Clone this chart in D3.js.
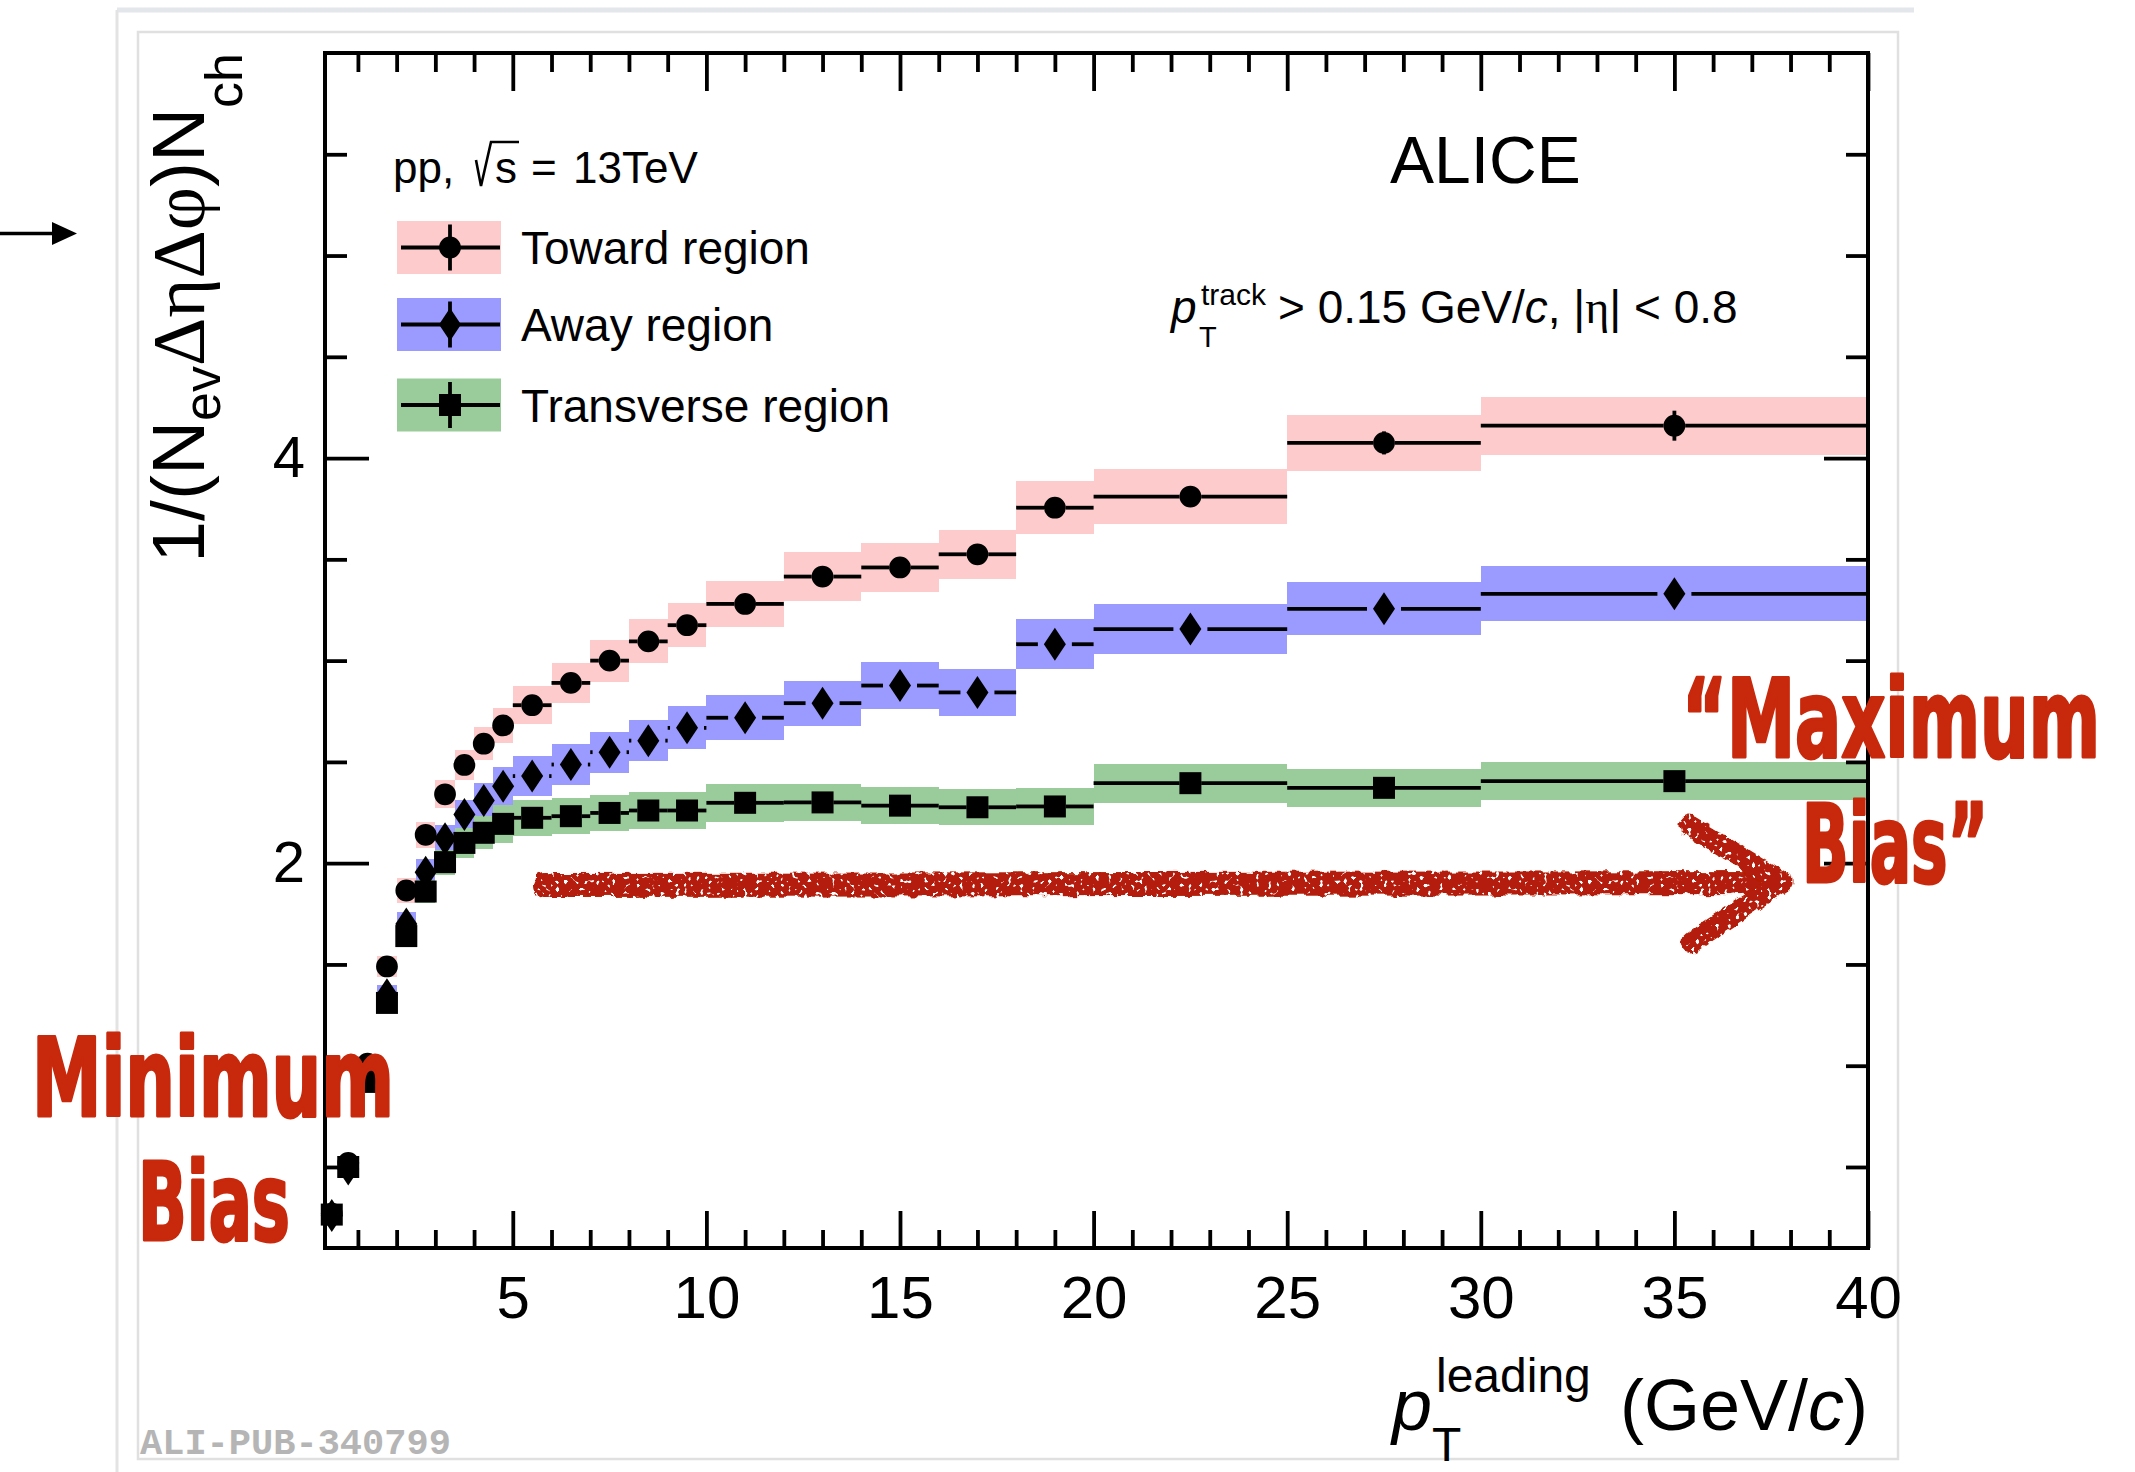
<!DOCTYPE html>
<html><head><meta charset="utf-8">
<script src="https://cdn.jsdelivr.net/npm/d3@7"></script>
<style>
html,body{margin:0;padding:0;background:#fff;}
svg{display:block;}
</style></head>
<body>
<svg id="chart" width="2135" height="1472"></svg>
<script>
// ---------------- data ----------------
const binEdges   = [0.15,0.5,1,1.5,2,2.5,3,3.5,4,4.5,5,6,7,8,9,10,12,14,16,18,20,25,30,40];
const binCenters = [0.325,0.75,1.25,1.75,2.25,2.75,3.25,3.75,4.25,4.75,5.5,6.5,7.5,8.5,9.5,11,13,15,17,19,22.5,27.5,35];

const toward     = [0.27,0.52,1.01,1.49,1.865,2.14,2.34,2.485,2.59,2.68,2.78,2.89,3.00,3.095,3.175,3.28,3.415,3.46,3.525,3.755,3.81,4.075,4.16];
const towardSys  = [0.015,0.025,0.04,0.05,0.06,0.065,0.07,0.074,0.08,0.088,0.095,0.10,0.104,0.109,0.11,0.115,0.12,0.12,0.122,0.132,0.134,0.14,0.144];
const towardStat = [0.002,0.002,0.003,0.004,0.005,0.006,0.007,0.008,0.009,0.01,0.01,0.012,0.014,0.016,0.018,0.015,0.02,0.025,0.03,0.035,0.03,0.057,0.074];

const away       = [0.26,0.49,0.96,1.35,1.70,1.955,2.12,2.24,2.31,2.38,2.43,2.487,2.548,2.605,2.668,2.718,2.79,2.877,2.843,3.081,3.156,3.256,3.33];
const awaySys    = [0.015,0.025,0.04,0.05,0.06,0.068,0.07,0.072,0.085,0.093,0.097,0.10,0.101,0.103,0.106,0.11,0.111,0.116,0.114,0.123,0.125,0.13,0.135];
const awayStat   = [0.002,0.002,0.003,0.004,0.005,0.006,0.007,0.008,0.009,0.01,0.01,0.012,0.014,0.016,0.018,0.015,0.02,0.025,0.03,0.035,0.03,0.045,0.06];

const trans      = [0.265,0.50,0.92,1.31,1.64,1.86,2.005,2.10,2.15,2.194,2.224,2.232,2.248,2.26,2.26,2.298,2.30,2.284,2.276,2.28,2.395,2.372,2.405];
const transSys   = [0.015,0.025,0.04,0.045,0.05,0.058,0.062,0.074,0.082,0.092,0.09,0.088,0.091,0.093,0.09,0.093,0.093,0.092,0.09,0.09,0.096,0.095,0.095];
const transStat  = [0.002,0.002,0.003,0.004,0.005,0.006,0.007,0.008,0.009,0.01,0.01,0.012,0.014,0.016,0.018,0.015,0.02,0.025,0.03,0.035,0.03,0.04,0.05];

const seriesNames = ["Toward region","Away region","Transverse region"];
const xMajorTicks = [5,10,15,20,25,30,35,40];
const xMinorTicks = d3.range(1,40,1).filter(v=>v%5!==0);
const yMajorTicks = [2,4];
const yMinorTicks = [0.5,1,1.5,2.5,3,3.5,4.5,5,5.5];

// ---------------- layout ----------------
const X0=325, X1=1868, Y0=1248, Y1=53;
const FONT = "'Liberation Sans', Arial, Helvetica, sans-serif";
const SERIF = "'Liberation Serif','DejaVu Serif', serif";
const LW = 3.8;
const svg = d3.select("#chart");
const x = d3.scaleLinear().domain([0.15,40]).range([X0,X1]);
const y = d3.scaleLinear().domain([0.1,6]).range([Y0,Y1]);

// screenshot frame lines
svg.append("line").attr("x1",117).attr("x2",1914).attr("y1",10).attr("y2",10).attr("stroke","#e3e6ea").attr("stroke-width",5);
svg.append("line").attr("x1",117).attr("x2",117).attr("y1",10).attr("y2",1472).attr("stroke","#e3e3e3").attr("stroke-width",3);
svg.append("rect").attr("x",138).attr("y",32).attr("width",1760).attr("height",1427)
  .attr("fill","none").attr("stroke","#e0e0e0").attr("stroke-width",2.5);

// slide arrow at top-left
svg.append("line").attr("x1",0).attr("x2",56).attr("y1",233.5).attr("y2",233.5).attr("stroke","#000").attr("stroke-width",3.5);
svg.append("path").attr("d","M52,222 L77,233.5 L52,245 Z").attr("fill","#000");

// ---------------- bands ----------------
const series = [
  {name:seriesNames[0], val:toward, sys:towardSys, stat:towardStat, fill:"#fdcbcb", marker:"circle", gap:10.8},
  {name:seriesNames[1], val:away,   sys:awaySys,   stat:awayStat,   fill:"#9a9aff", marker:"diamond", gap:17},
  {name:seriesNames[2], val:trans,  sys:transSys,  stat:transStat,  fill:"#9acb9a", marker:"square", gap:10.8}
];
const diamondType = {draw(ctx,size){const h=16.5,w=11;ctx.moveTo(0,-h);ctx.lineTo(w,0);ctx.lineTo(0,h);ctx.lineTo(-w,0);ctx.closePath();}};
const squareType  = {draw(ctx,size){const s=11;ctx.rect(-s,-s,2*s,2*s);}};
const circleType  = {draw(ctx,size){const r=10.9;ctx.moveTo(r,0);ctx.arc(0,0,r,0,2*Math.PI);}};
const symFor = m => d3.symbol().type(m==="circle"?circleType:(m==="diamond"?diamondType:squareType))();

const plot = svg.append("g");
series.forEach(s=>{
  plot.append("g").selectAll("rect").data(binCenters).join("rect")
    .attr("x",(d,i)=>x(binEdges[i]))
    .attr("width",(d,i)=>x(binEdges[i+1])-x(binEdges[i]))
    .attr("y",(d,i)=>y(s.val[i]+s.sys[i]))
    .attr("height",(d,i)=>y(s.val[i]-s.sys[i])-y(s.val[i]+s.sys[i]))
    .attr("fill",s.fill).attr("shape-rendering","crispEdges");
});
series.forEach(s=>{
  const g = plot.append("g");
  binCenters.forEach((c,i)=>{
    const cx=x(c), cy=y(s.val[i]), lx=x(binEdges[i]), rx=x(binEdges[i+1]);
    if (cx-s.gap>lx) g.append("line").attr("x1",lx).attr("x2",cx-s.gap).attr("y1",cy).attr("y2",cy).attr("stroke","#000").attr("stroke-width",LW);
    if (rx>cx+s.gap) g.append("line").attr("x1",cx+s.gap).attr("x2",rx).attr("y1",cy).attr("y2",cy).attr("stroke","#000").attr("stroke-width",LW);
    g.append("line").attr("x1",cx).attr("x2",cx).attr("y1",y(s.val[i]+s.stat[i])).attr("y2",y(s.val[i]-s.stat[i])).attr("stroke","#000").attr("stroke-width",LW);
    g.append("path").attr("d",symFor(s.marker)).attr("transform",`translate(${cx},${cy})`).attr("fill","#000");
  });
});

// ---------------- axes ----------------
function styleAxis(g){g.select(".domain").remove();g.selectAll("line").attr("stroke","#000").attr("stroke-width",LW);}
svg.append("g").attr("transform",`translate(0,${Y0})`)
  .call(d3.axisBottom(x).tickValues(xMajorTicks).tickSize(-37).tickPadding(27).tickFormat(d3.format("d")))
  .call(styleAxis).call(g=>g.selectAll("text").attr("font-family",FONT).attr("font-size",60).attr("fill","#000"));
svg.append("g").attr("transform",`translate(0,${Y0})`)
  .call(d3.axisBottom(x).tickValues(xMinorTicks).tickSize(-18).tickFormat(""))
  .call(styleAxis);
svg.append("g").attr("transform",`translate(0,${Y1})`)
  .call(d3.axisTop(x).tickValues(xMajorTicks).tickSize(-38).tickFormat(""))
  .call(styleAxis);
svg.append("g").attr("transform",`translate(0,${Y1})`)
  .call(d3.axisTop(x).tickValues(xMinorTicks).tickSize(-19).tickFormat(""))
  .call(styleAxis);
svg.append("g").attr("transform",`translate(${X0},0)`)
  .call(d3.axisLeft(y).tickValues(yMajorTicks).tickSize(-44).tickPadding(20).tickFormat(d3.format("d")))
  .call(styleAxis).call(g=>g.selectAll("text").attr("font-family",FONT).attr("font-size",58).attr("fill","#000"));
svg.append("g").attr("transform",`translate(${X0},0)`)
  .call(d3.axisLeft(y).tickValues(yMinorTicks).tickSize(-22).tickFormat(""))
  .call(styleAxis);
svg.append("g").attr("transform",`translate(${X1},0)`)
  .call(d3.axisRight(y).tickValues(yMajorTicks).tickSize(-44).tickFormat(""))
  .call(styleAxis);
svg.append("g").attr("transform",`translate(${X1},0)`)
  .call(d3.axisRight(y).tickValues(yMinorTicks).tickSize(-22).tickFormat(""))
  .call(styleAxis);
svg.append("rect").attr("x",X0).attr("y",Y1).attr("width",X1-X0).attr("height",Y0-Y1)
  .attr("fill","none").attr("stroke","#000").attr("stroke-width",4);

// ---------------- axis titles ----------------
const yl = svg.append("text").attr("transform","translate(204,53) rotate(-90)")
  .attr("text-anchor","end").attr("font-family",FONT).attr("font-size",75).attr("fill","#000");
yl.append("tspan").text("1/(N");
yl.append("tspan").attr("font-size",52).attr("dy",16).text("ev");
yl.append("tspan").attr("dy",-16).attr("font-family",SERIF).text("\u0394\u03b7\u0394\u03c6");
yl.append("tspan").text(")N");
yl.append("tspan").attr("font-size",52).attr("dy",38).text("ch");

svg.append("text").attr("x",1392).attr("y",1430).attr("font-family",FONT).attr("font-style","italic").attr("font-size",72).text("p");
svg.append("text").attr("x",1436).attr("y",1392).attr("font-family",FONT).attr("font-size",48).text("leading");
svg.append("text").attr("x",1432).attr("y",1461).attr("font-family",FONT).attr("font-size",48).text("T");
const xl = svg.append("text").attr("x",1868).attr("y",1430).attr("text-anchor","end").attr("font-family",FONT).attr("font-size",72);
xl.append("tspan").text("(GeV/");
xl.append("tspan").attr("font-style","italic").text("c");
xl.append("tspan").text(")");

// ---------------- labels ----------------
svg.append("text").attr("x",1390).attr("y",183).attr("font-family",FONT).attr("font-size",66).text("ALICE");

svg.append("text").attr("x",393).attr("y",183).attr("font-family",FONT).attr("font-size",44).text("pp,");
svg.append("path").attr("d","M476,160 L481,186 L491,142 L519,142").attr("fill","none").attr("stroke","#000").attr("stroke-width",2.6);
svg.append("text").attr("x",495).attr("y",183).attr("font-family",FONT).attr("font-size",44).text("s");
svg.append("text").attr("x",531).attr("y",183).attr("font-family",FONT).attr("font-size",44).text("=");
svg.append("text").attr("x",573).attr("y",183).attr("font-family",FONT).attr("font-size",44).text("13TeV");

svg.append("text").attr("x",1171).attr("y",323).attr("font-family",FONT).attr("font-style","italic").attr("font-size",46).text("p");
svg.append("text").attr("x",1201).attr("y",305).attr("font-family",FONT).attr("font-size",30).text("track");
svg.append("text").attr("x",1199).attr("y",347).attr("font-family",FONT).attr("font-size",29).text("T");
const cut = svg.append("text").attr("x",1278).attr("y",323).attr("font-family",FONT).attr("font-size",46).attr("xml:space","preserve");
cut.append("tspan").text("> 0.15 GeV/");
cut.append("tspan").attr("font-style","italic").text("c");
cut.append("tspan").text(", |");
cut.append("tspan").attr("font-family",SERIF).text("\u03b7");
cut.append("tspan").text("| < 0.8");

// legend
const legY=[247.5,324.5,405];
series.forEach((s,i)=>{
  const g=svg.append("g");
  g.append("rect").attr("x",397).attr("y",legY[i]-26.5).attr("width",104).attr("height",53).attr("fill",s.fill);
  g.append("line").attr("x1",401).attr("x2",500).attr("y1",legY[i]).attr("y2",legY[i]).attr("stroke","#000").attr("stroke-width",LW);
  g.append("line").attr("x1",450).attr("x2",450).attr("y1",legY[i]-23).attr("y2",legY[i]+23).attr("stroke","#000").attr("stroke-width",LW);
  g.append("path").attr("d",symFor(s.marker)).attr("transform",`translate(450,${legY[i]})`).attr("fill","#000");
  g.append("text").attr("x",521).attr("y",legY[i]+16.5).attr("font-family",FONT).attr("font-size",46).text(s.name);
});

// publication id
svg.append("text").attr("x",140).attr("y",1454).attr("font-family","'Liberation Mono','DejaVu Sans Mono',monospace")
  .attr("font-weight","bold").attr("font-size",37).attr("fill","#b5b5b5").text("ALI-PUB-340799");

// ---------------- red annotations ----------------
const defs = svg.append("defs");
const f = defs.append("filter").attr("id","rough").attr("x","-5%").attr("y","-60%").attr("width","110%").attr("height","220%");
f.append("feTurbulence").attr("type","fractalNoise").attr("baseFrequency","0.1").attr("numOctaves",2).attr("seed",3).attr("result","noise");
f.append("feDisplacementMap").attr("in","SourceGraphic").attr("in2","noise").attr("scale",8).attr("xChannelSelector","R").attr("yChannelSelector","G").attr("result","disp");
f.append("feTurbulence").attr("type","fractalNoise").attr("baseFrequency","0.25").attr("numOctaves",1).attr("seed",9).attr("result","n2");
f.append("feColorMatrix").attr("in","n2").attr("type","matrix").attr("values","0 0 0 0 0  0 0 0 0 0  0 0 0 0 0  0 0 0 -16 11").attr("result","holes");
f.append("feComposite").attr("in","disp").attr("in2","holes").attr("operator","in");

const arrowG = svg.append("g").attr("filter","url(#rough)").attr("stroke","#b41f07").attr("fill","none").attr("stroke-linecap","round");
arrowG.append("line").attr("x1",545).attr("y1",885).attr("x2",1766).attr("y2",883).attr("stroke-width",24);
arrowG.append("path").attr("d","M1690,826 L1782,882 L1692,942").attr("stroke-width",21).attr("stroke-linejoin","round");

const RED="#c8280b";
const HAND="'DejaVu Sans Condensed','DejaVu Sans',sans-serif";
function hand(xp,yp,w,txt){
  const g = svg.append("g").attr("transform",`translate(${xp},${yp})`);
  const t = g.append("text").attr("x",0).attr("y",0).attr("font-family",HAND).attr("font-weight","bold")
   .attr("font-stretch","condensed").attr("font-size",108).attr("fill",RED).attr("stroke",RED).attr("stroke-width",3)
   .attr("stroke-linejoin","round").text(txt);
  const nat = t.node().getComputedTextLength() || w;
  t.attr("transform",`scale(${w/nat},1)`);
}
hand(32,1116,362,"Minimum");
hand(138,1240,152,"Bias");
hand(1682,757,418,"\u201cMaximum");
hand(1802,882,186,"Bias\u201d");
</script>
</body></html>
